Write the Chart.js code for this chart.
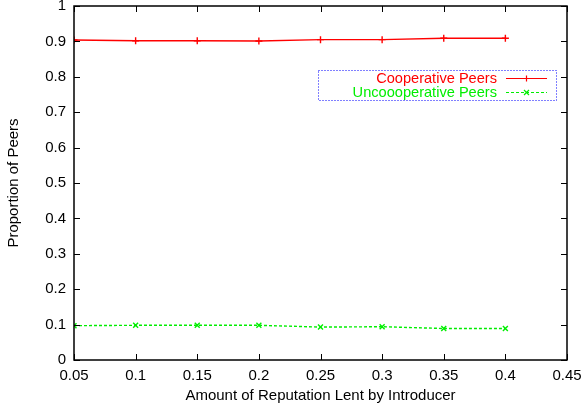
<!DOCTYPE html>
<html>
<head>
<meta charset="utf-8">
<script src="https://cdn.jsdelivr.net/npm/chart.js@4.4.0/dist/chart.umd.min.js"></script>
<style>
  html, body { margin: 0; padding: 0; background: #fff; }
  #wrap { width: 583px; height: 410px; }
</style>
</head>
<body>
<div id="wrap"><canvas id="peerChart" width="583" height="410"></canvas></div>
<script>
// data
const reputationLent = [0.05, 0.1, 0.15, 0.2, 0.25, 0.3, 0.35, 0.4];
const cooperativePeers = [0.904, 0.902, 0.902, 0.901, 0.905, 0.905, 0.909, 0.909];
const uncooperativePeers = [0.097, 0.098, 0.098, 0.098, 0.093, 0.094, 0.089, 0.089];
const xTicks = [0.05, 0.1, 0.15, 0.2, 0.25, 0.3, 0.35, 0.4, 0.45];
const yTicks = [0, 0.1, 0.2, 0.3, 0.4, 0.5, 0.6, 0.7, 0.8, 0.9, 1];
const seriesNames = ['Cooperative Peers', 'Uncoooperative Peers'];

const FONT = 'Liberation Sans, Arial, Helvetica, sans-serif';
const FSIZE = 15;

let toPoints = (ys) => reputationLent.map((x, i) => ({ x: x, y: ys[i] }));

// inward tick marks on all four sides + gnuplot-style key box
const gnuplotFrame = {
    id: 'gnuplotFrame',
    afterDatasetsDraw(chart) {
        const ctx = chart.ctx;
        const a = chart.chartArea;
        const xs = chart.scales.x;
        const ys = chart.scales.y;
        const len = 6;
        ctx.save();
        ctx.strokeStyle = '#000';
        ctx.lineWidth = 1;
        ctx.beginPath();
        xTicks.forEach(v => {
            const px = Math.round(xs.getPixelForValue(v)) + 0.5;
            ctx.moveTo(px, a.bottom); ctx.lineTo(px, a.bottom - len);
            ctx.moveTo(px, a.top); ctx.lineTo(px, a.top + len);
        });
        yTicks.forEach(v => {
            const py = Math.round(ys.getPixelForValue(v)) + 0.5;
            ctx.moveTo(a.left, py); ctx.lineTo(a.left + len, py);
            ctx.moveTo(a.right, py); ctx.lineTo(a.right - len, py);
        });
        ctx.stroke();
        ctx.lineWidth = 1.5;
        ctx.strokeRect(a.left, a.top, a.right - a.left, a.bottom - a.top);

        // key
        const bx = 318.5, by = 70.5, bw = 238, bh = 30;
        ctx.lineWidth = 1;
        ctx.strokeStyle = '#0000ff';
        ctx.setLineDash([1, 2]);
        ctx.strokeRect(bx, by, bw, bh);
        ctx.setLineDash([]);

        ctx.font = '14.6px ' + FONT;
        ctx.textAlign = 'right';
        ctx.textBaseline = 'middle';
        const rows = [
            { label: seriesNames[0], color: '#ff0000', dash: [], y: 78.5, mark: 'plus' },
            { label: seriesNames[1], color: '#00ee00', dash: [3, 2], y: 92.5, mark: 'x' }
        ];
        rows.forEach(r => {
            ctx.fillStyle = r.color;
            ctx.fillText(r.label, 497, r.y);
            ctx.strokeStyle = r.color;
            ctx.lineWidth = 1.2;
            ctx.setLineDash(r.dash);
            ctx.beginPath();
            ctx.moveTo(506, r.y); ctx.lineTo(547, r.y);
            ctx.stroke();
            ctx.setLineDash([]);
            ctx.beginPath();
            const cx = 526.5;
            if (r.mark === 'plus') {
                ctx.moveTo(cx - 3, r.y); ctx.lineTo(cx + 3, r.y);
                ctx.moveTo(cx, r.y - 3); ctx.lineTo(cx, r.y + 3);
            } else {
                ctx.moveTo(cx - 2.5, r.y - 2.5); ctx.lineTo(cx + 2.5, r.y + 2.5);
                ctx.moveTo(cx - 2.5, r.y + 2.5); ctx.lineTo(cx + 2.5, r.y - 2.5);
            }
            ctx.stroke();
        });
        ctx.restore();
    }
};

const ctx = document.getElementById('peerChart').getContext('2d');
const peerChart = new Chart(ctx, {
    type: 'line',
    data: {
        datasets: [{
            label: seriesNames[0],
            data: toPoints(cooperativePeers),
            borderColor: '#ff0000',
            backgroundColor: '#ff0000',
            borderWidth: 1.4,
            pointStyle: 'cross',
            pointRadius: 3.5,
            pointBorderWidth: 1.4,
            pointHoverRadius: 3.5,
            tension: 0
        }, {
            label: seriesNames[1],
            data: toPoints(uncooperativePeers),
            borderColor: '#00ee00',
            backgroundColor: '#00ee00',
            borderWidth: 1.4,
            borderDash: [3, 2],
            pointStyle: 'crossRot',
            pointRadius: 3.5,
            pointBorderWidth: 1.4,
            pointHoverRadius: 3.5,
            tension: 0
        }]
    },
    options: {
        responsive: false,
        animation: false,
        devicePixelRatio: 1,
        layout: { padding: { top: 6, right: 16, left: 0, bottom: 0 } },
        plugins: {
            legend: { display: false },
            tooltip: { enabled: false }
        },
        scales: {
            x: {
                type: 'linear',
                min: 0.05,
                max: 0.45,
                afterBuildTicks: (scale) => { scale.ticks = xTicks.map(v => ({ value: v })); },
                afterFit: (scale) => {
                    scale.height = 50;
                    scale.paddingLeft = 0;
                    scale.paddingRight = 0;
                },
                grid: { display: false, drawTicks: false },
                border: { display: false },
                ticks: {
                    color: '#000',
                    padding: 7,
                    maxRotation: 0,
                    font: { family: FONT, size: FSIZE },
                    callback: (v) => String(Math.round(v * 100) / 100)
                },
                title: {
                    display: true,
                    text: 'Amount of Reputation Lent by Introducer',
                    color: '#000',
                    font: { family: FONT, size: FSIZE },
                    padding: { top: 0, bottom: 5 }
                }
            },
            y: {
                min: 0,
                max: 1,
                afterBuildTicks: (scale) => { scale.ticks = yTicks.map(v => ({ value: v })); },
                afterFit: (scale) => {
                    scale.width = 74;
                    scale.paddingTop = 0;
                    scale.paddingBottom = 0;
                },
                grid: { display: false, drawTicks: false },
                border: { display: false },
                ticks: {
                    color: '#000',
                    padding: 8,
                    font: { family: FONT, size: FSIZE },
                    callback: (v) => String(Math.round(v * 10) / 10)
                },
                title: {
                    display: true,
                    text: 'Proportion of Peers',
                    color: '#000',
                    font: { family: FONT, size: FSIZE },
                    padding: { top: 5, bottom: 0 }
                }
            }
        }
    },
    plugins: [gnuplotFrame]
});
</script>
</body>
</html>
